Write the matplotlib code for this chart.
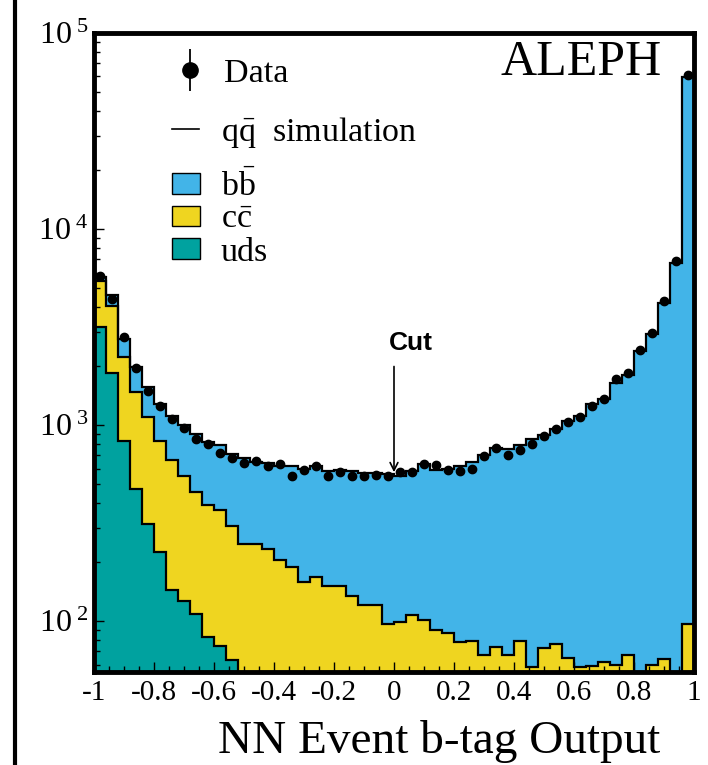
import numpy as np
import matplotlib
matplotlib.use("Agg")
import matplotlib.pyplot as plt
from matplotlib.patches import Patch
from matplotlib.lines import Line2D
from matplotlib.ticker import FixedLocator, FixedFormatter, LogLocator, NullFormatter, MultipleLocator

plt.rcParams['font.family'] = ['Liberation Serif', 'DejaVu Serif']
plt.rcParams['mathtext.fontset'] = 'custom'
plt.rcParams['mathtext.rm'] = 'Liberation Serif'
plt.rcParams['mathtext.it'] = 'Liberation Serif:italic'
plt.rcParams['axes.unicode_minus'] = False

# 50 bins of the NN output between -1 and 1
edges = np.linspace(-1, 1, 51)
centers = 0.5 * (edges[:-1] + edges[1:])

# simulated events per bin, by flavour
uds = np.array([3180, 1840, 827, 473, 312, 224, 144, 127, 109, 83,
                75, 63, 48, 40, 34, 30, 26, 22, 20, 18,
                16, 14, 12, 11, 10, 9, 8, 8, 7, 7,
                6, 6, 5, 5, 5, 4, 4, 4, 4, 3,
                3, 3, 3, 3, 3, 3, 3, 3, 3, 3])
cc = np.array([2270, 2220, 1410, 1000, 790, 610, 523, 422, 346, 308,
               293, 242, 200, 207, 198, 174, 163, 137, 148, 133,
               135, 121, 109, 110, 87, 90, 99, 93, 83, 80,
               72, 73, 62, 69, 62, 75, 54, 69, 72, 62,
               55, 56, 59, 57, 64, 47, 57, 61, 47, 94])
bb = np.array([250, 545, 500, 495, 460, 451, 443, 446, 443, 431,
               420, 407, 430, 403, 408, 413, 426, 441, 447, 429,
               438, 445, 450, 450, 464, 449, 473, 529, 502, 513,
               538, 571, 635, 691, 692, 710, 793, 822, 884, 980,
               1051, 1227, 1298, 1580, 1733, 2330, 2870, 4140, 6650, 59500])

# measured events per bin
data = np.array([5750, 4390, 2811, 1954, 1499, 1247, 1079, 968, 851, 805,
                 719, 676, 637, 654, 617, 630, 549, 588, 617, 549,
                 576, 553, 549, 555, 551, 573, 576, 630, 622, 589,
                 585, 598, 694, 765, 702, 745, 805, 884, 956, 1033,
                 1101, 1257, 1366, 1720, 1843, 2410, 2945, 4317, 6875, 61240])

xticks = [-1, -0.8, -0.6, -0.4, -0.2, 0, 0.2, 0.4, 0.6, 0.8, 1]
xtick_labels = ["-1", "-0.8", "-0.6", "-0.4", "-0.2", "0", "0.2", "0.4", "0.6", "0.8", "1"]
yticks = [1e2, 1e3, 1e4, 1e5]
ytick_labels = [r"$10^{\ 2}$", r"$10^{\ 3}$", r"$10^{\ 4}$", r"$10^{\ 5}$"]

cut_value = 0.0

c_bb = "#42b4e8"
c_cc = "#efd520"
c_uds = "#00a29f"

fig = plt.figure(figsize=(7.08, 7.65), dpi=100)
ax = fig.add_axes([94 / 708, 1 - 672 / 765, 600 / 708, 639 / 765])

top_cc = uds + cc
top_all = top_cc + bb

ax.stairs(top_all, edges, baseline=1, fill=True, color=c_bb, lw=0)
ax.stairs(top_cc, edges, baseline=1, fill=True, color=c_cc, lw=0)
ax.stairs(uds, edges, baseline=1, fill=True, color=c_uds, lw=0)
for t in (uds, top_cc, top_all):
    ax.stairs(t, edges, baseline=None, color="black", lw=1.6)

ax.errorbar(centers, data, yerr=np.sqrt(data), fmt="o", color="black",
            ms=6, elinewidth=1, capsize=0, zorder=5)

ax.set_yscale("log")
ax.set_xlim(-1, 1)
ax.set_ylim(55, 1e5)

ax.xaxis.set_major_locator(FixedLocator(xticks))
ax.xaxis.set_major_formatter(FixedFormatter(xtick_labels))
ax.xaxis.set_minor_locator(MultipleLocator(0.05))
ax.yaxis.set_major_locator(FixedLocator(yticks))
ax.yaxis.set_major_formatter(FixedFormatter(ytick_labels))
ax.yaxis.set_minor_locator(LogLocator(base=10, subs=range(2, 10)))
ax.yaxis.set_minor_formatter(NullFormatter())

ax.tick_params(which="both", direction="in", top=False, right=False, width=1)
ax.tick_params(which="major", length=7)
ax.tick_params(which="minor", length=4)
ax.tick_params(axis="x", which="major", labelsize=21, pad=6)
ax.tick_params(axis="y", which="major", labelsize=23, pad=4)

for s in ax.spines.values():
    s.set_linewidth(3.5)
    s.set_zorder(10)

ax.set_xlabel("NN Event b-tag Output", fontsize=34, loc="right", labelpad=10)
ax.xaxis.label.set_x(0.943)

ax.text(0.947, 0.934, "ALEPH", transform=ax.transAxes, ha="right",
        va="baseline", fontsize=36)

# cut position arrow
ax.annotate("", xy=(cut_value, 575), xytext=(cut_value, 1990),
            arrowprops=dict(arrowstyle="->", color="black", lw=1.2,
                            shrinkA=0, shrinkB=0, mutation_scale=14), zorder=6)
ax.text(cut_value + 0.057, 2630, "Cut", ha="center", va="center",
        fontsize=19, fontweight="bold", family=["Liberation Sans", "DejaVu Sans"])

# legends
data_handle = (Line2D([], [], marker="o", ms=11, color="black", ls="none"),
               Line2D([], [], marker="|", ms=30, mew=1.3, color="black", ls="none"))
leg_a = ax.legend([data_handle], ["Data"], loc="center left",
                  bbox_to_anchor=(0.131, 0.937), frameon=False, fontsize=24.5,
                  borderpad=0, borderaxespad=0, handlelength=1.0, handletextpad=0.5)
ax.add_artist(leg_a)

sim_handle = Line2D([], [], color="black", lw=1.2)
leg_b = ax.legend([sim_handle], [r"$\mathrm{q\bar{q}}$  simulation"], loc="center left",
                  bbox_to_anchor=(0.13, 0.845), frameon=False, fontsize=24.5,
                  borderpad=0, borderaxespad=0, handlelength=0.8, handletextpad=0.63)
ax.add_artist(leg_b)

flav_handles = [Patch(facecolor=c, edgecolor="black", lw=1) for c in (c_bb, c_cc, c_uds)]
ax.legend(flav_handles, [r"$\mathrm{b\bar{b}}$", r"$\mathrm{c\bar{c}}$", "uds"],
          loc="center left", bbox_to_anchor=(0.13, 0.71), frameon=False,
          fontsize=24.5, borderpad=0, borderaxespad=0, handlelength=0.83,
          handleheight=0.54, handletextpad=0.6, labelspacing=0.06)

fig.add_artist(Line2D([15 / 708, 15 / 708], [0, 1], transform=fig.transFigure,
                      color="black", lw=3))

fig.savefig("out.png", dpi=100)
